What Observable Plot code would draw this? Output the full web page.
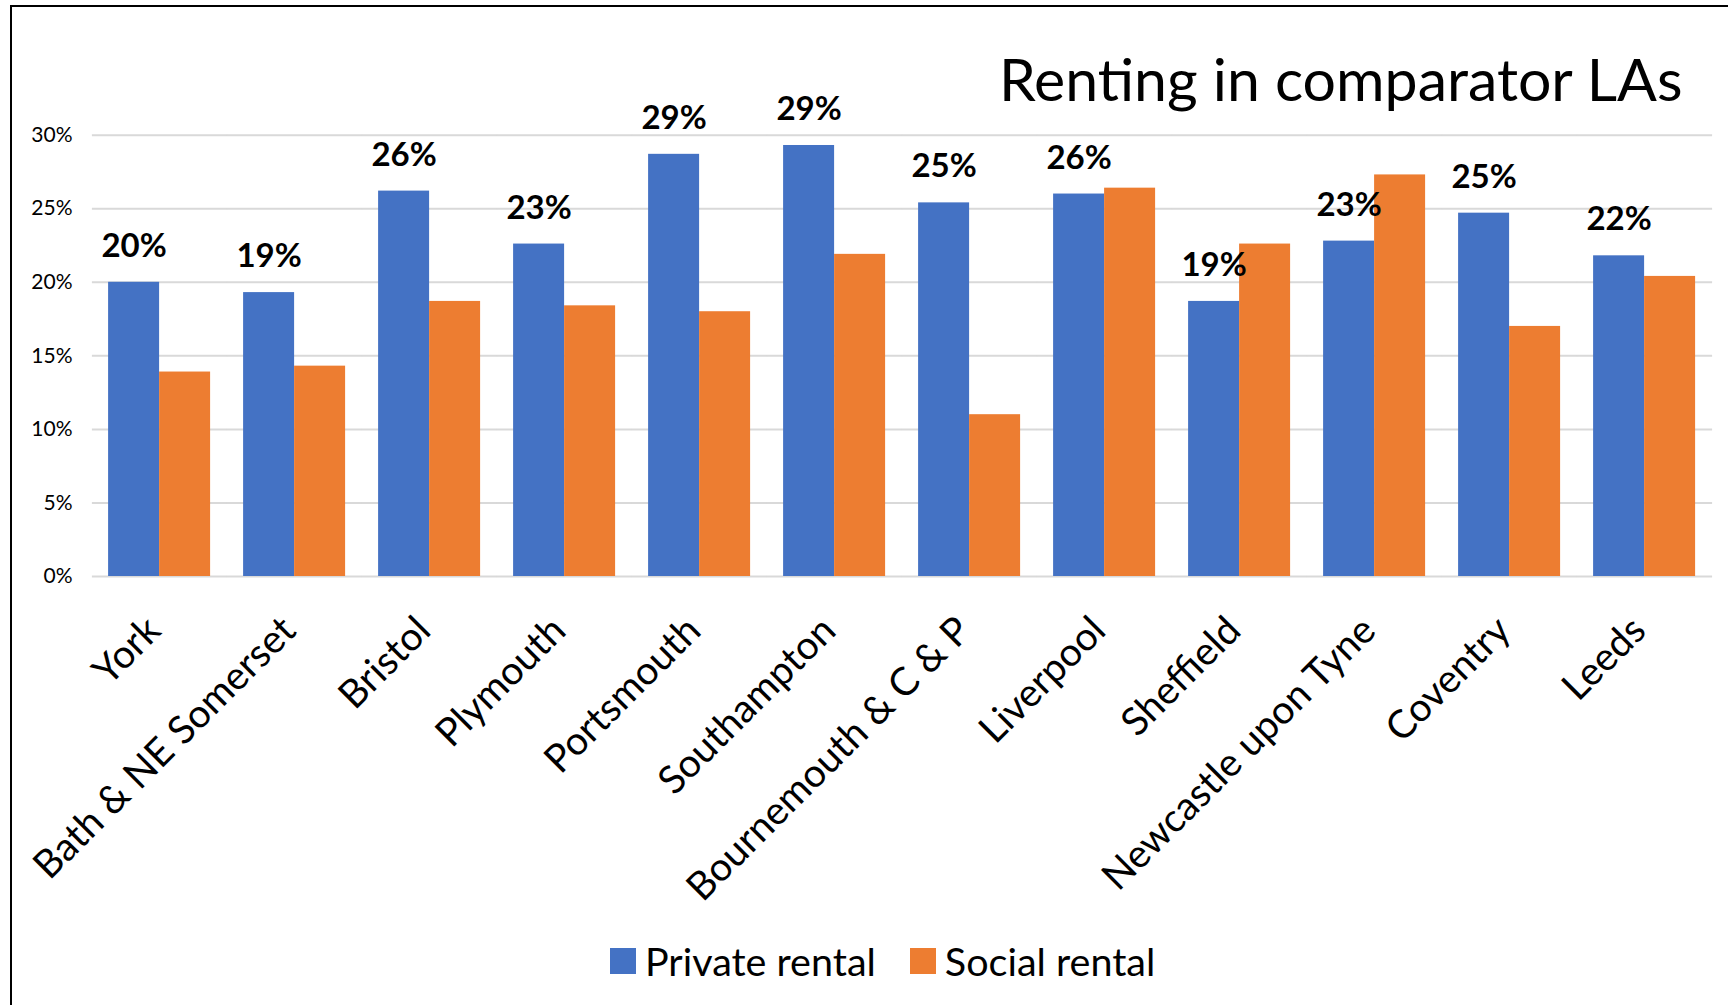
<!DOCTYPE html>
<html>
<head>
<meta charset="utf-8">
<script src="https://cdn.jsdelivr.net/npm/d3@7"></script>
<script src="https://cdn.jsdelivr.net/npm/@observablehq/plot@0.6"></script>
<style>
  html, body { margin: 0; padding: 0; background: #fff; overflow: hidden; }
  #wrap { position: relative; width: 1728px; height: 1005px; overflow: hidden; font-family: Lato, "Open Sans", sans-serif; }
  #frame { position: absolute; left: 10px; top: 4.5px; width: 1800px; height: 1100px; border-left: 2.5px solid #000; border-top: 2.5px solid #000; pointer-events: none; z-index: 3; }
  #title { position: relative; height: 90px; z-index: 2; }
  #title span { position: absolute; left: 999px; top: 48.5px; font-size: 59px; line-height: 1; color: #000; white-space: nowrap; }
  #chart svg { display: block; background: transparent; }
  #legend { height: 90px; position: relative; }
  #legend > div { position: absolute; left: 610px; top: 22px; }
  .leg-swatch > svg { margin-right: 9px !important; }
  .leg-swatch { margin-right: 34px !important; }
</style>
</head>
<body>
<div id="wrap">
  <div id="frame"></div>
  <div id="title"><span>Renting in comparator LAs</span></div>
  <div id="chart"></div>
  <div id="legend"></div>
</div>
<script>
const las = ["York", "Bath & NE Somerset", "Bristol", "Plymouth", "Portsmouth", "Southampton",
  "Bournemouth & C & P", "Liverpool", "Sheffield", "Newcastle upon Tyne", "Coventry", "Leeds"];
const seriesNames = ["Private rental", "Social rental"];
const privateRental = [0.200, 0.193, 0.262, 0.226, 0.287, 0.293, 0.254, 0.260, 0.187, 0.228, 0.247, 0.218];
const socialRental = [0.139, 0.143, 0.187, 0.184, 0.180, 0.219, 0.110, 0.264, 0.226, 0.273, 0.170, 0.204];
const yTicks = [0, 0.05, 0.10, 0.15, 0.20, 0.25, 0.30];
const colors = ["#4472C4", "#ED7D31"];

const rows = [];
las.forEach((la, i) => {
  rows.push({la, series: seriesNames[0], value: privateRental[i]});
  rows.push({la, series: seriesNames[1], value: socialRental[i]});
});
const labelRows = las.map((la, i) => ({la, series: seriesNames[0], value: privateRental[i]}));
const pct = d3.format(".0%");

const chart = Plot.plot({
  width: 1728,
  height: 825,
  marginTop: 44.7,
  marginBottom: 339,
  marginLeft: 88.9,
  marginRight: 12.5,
  style: {fontFamily: "Lato, sans-serif", background: "transparent", overflow: "visible"},
  fx: {domain: las, paddingInner: 0.236, paddingOuter: 0.118, label: null},
  x: {domain: seriesNames, padding: 0, axis: null},
  y: {domain: [0, 0.30], axis: null},
  color: {domain: seriesNames, range: colors},
  marks: [
    Plot.ruleY(yTicks, {stroke: "#d9d9d9", strokeWidth: 2, insetLeft: -16.1, insetRight: -16.1}),
    Plot.axisY(yTicks, {tickSize: 0, tickPadding: 36, tickFormat: pct, fontSize: 21, fill: "#000", label: null}),
    Plot.barY(rows, {fx: "la", x: "series", y: "value", fill: "series", inset: 0}),
    Plot.text(labelRows, {fx: "la", x: "series", y: "value", text: d => pct(d.value), dy: -36, fontSize: 33, fontWeight: "bold", fill: "#000"}),
    Plot.axisFx({anchor: "bottom", tickSize: 0, tickPadding: 0, tickRotate: -45, textAnchor: "end", lineAnchor: "middle", fontSize: 39, dx: -6, dy: 47.5, fill: "#000", label: null})
  ]
});
document.getElementById("chart").appendChild(chart);

const leg = Plot.legend({
  color: {domain: seriesNames, range: colors},
  swatchSize: 26,
  className: "leg",
  style: {fontSize: "39.5px", fontFamily: "Lato, sans-serif", color: "#000"}
});
document.getElementById("legend").appendChild(leg);
</script>
</body>
</html>
